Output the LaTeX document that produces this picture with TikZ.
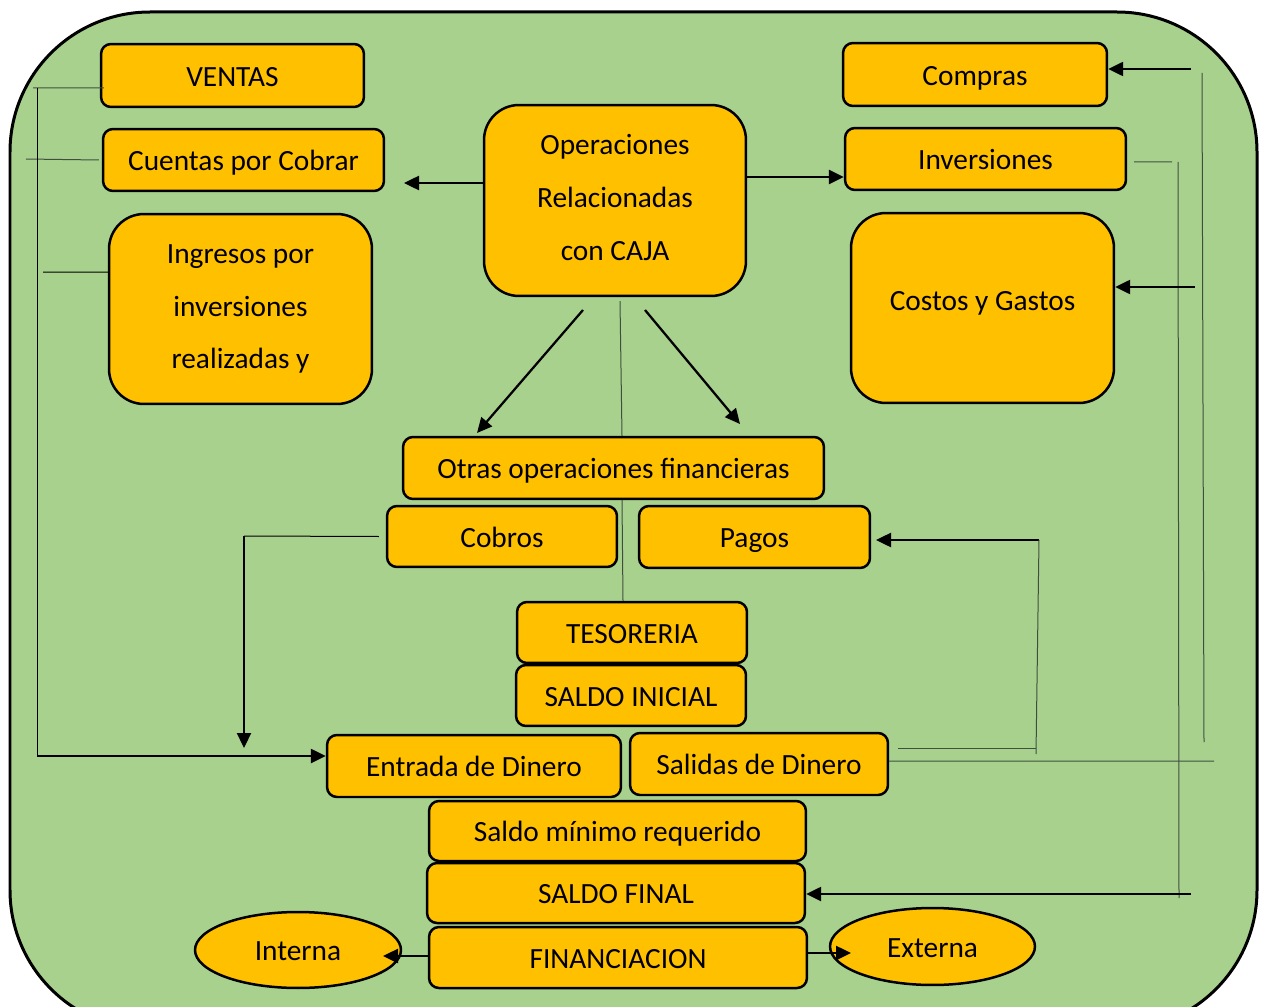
\documentclass[tikz,border=0pt]{standalone}
\usepackage{fontspec}
\setmainfont{Carlito}
\usetikzlibrary{arrows.meta,shapes.geometric}
\definecolor{bggreen}{HTML}{A9D18E}
\definecolor{boxorange}{HTML}{FFC000}
\definecolor{thingray}{HTML}{3F4F3F}
\tikzset{
  boxbase/.style={draw=black, fill=boxorange, line width=0.05cm, inner sep=0pt, align=center},
  box/.style={boxbase, rounded corners=0.2cm, text height=15.9pt, text depth=3.5pt},
  bigbox/.style={boxbase, rounded corners=0.7cm},
  oval/.style={draw=black, fill=boxorange, line width=0.05cm, ellipse, inner sep=0pt, text height=15.9pt, text depth=3.5pt},
  arr/.style={line width=0.05cm, -{Triangle[length=0.3cm,width=0.28cm]}},
  thinln/.style={line width=0.02cm, draw=thingray},
  thinblk/.style={line width=0.02cm, draw=black},
}
\begin{document}
\begin{tikzpicture}[x=0.02cm, y=-0.02cm, font=\fontsize{16.7}{30}\selectfont]
\useasboundingbox (0,0) rectangle (1265,1007);
\clip (0,0) rectangle (1265,1007);
\fill[white] (0,0) rectangle (1265,1007);
\filldraw[fill=bggreen, draw=black, line width=0.06cm, rounded corners=2.8cm] (10,12) rectangle (1257,1030);

% nodes
\node[box, minimum width=5.26cm, minimum height=1.26cm] (ventas) at (232.5,75.5) {VENTAS};
\node[box, minimum width=5.62cm, minimum height=1.24cm] (cuentas) at (243.5,160) {Cuentas por Cobrar};
\node[bigbox, minimum width=5.26cm, minimum height=3.8cm] (ingresos) at (240.5,309) {Ingresos por\\inversiones\\realizadas y};
\node[bigbox, minimum width=5.24cm, minimum height=3.82cm, text depth=3.3pt] (oper) at (615,200.5) {Operaciones\\Relacionadas\\con CAJA};
\node[box, minimum width=5.28cm, minimum height=1.26cm] (compras) at (975,74.5) {Compras};
\node[box, minimum width=5.62cm, minimum height=1.24cm] (invers) at (985.5,159) {Inversiones};
\node[bigbox, minimum width=5.26cm, minimum height=3.8cm] (costos) at (982.5,308) {};
\node (costosT) at (982.5,303) {Costos y Gastos};
\node[box, minimum width=8.42cm, minimum height=1.24cm] (otras) at (613.5,468) {Otras operaciones financieras};
\node[box, minimum width=4.6cm, minimum height=1.22cm] (cobros) at (502,536.5) {Cobros};
\node[box, minimum width=4.62cm, minimum height=1.24cm] (pagos) at (754.5,537) {Pagos};
\node[box, minimum width=4.6cm, minimum height=1.22cm] (teso) at (632,632.5) {TESORERIA};
\node[box, minimum width=4.6cm, minimum height=1.22cm] (sinicial) at (631,695.5) {SALDO INICIAL};
\node[box, minimum width=5.88cm, minimum height=1.24cm] (entrada) at (474,766) {Entrada de Dinero};
\node[box, minimum width=5.16cm, minimum height=1.24cm] (salidas) at (759,764) {Salidas de Dinero};
\node[box, minimum width=7.54cm, minimum height=1.2cm] (smin) at (617.5,831) {Saldo mínimo requerido};
\node[box, minimum width=7.56cm, minimum height=1.2cm] (sfinal) at (616,893) {SALDO FINAL};
\node[box, minimum width=7.56cm, minimum height=1.22cm] (financ) at (618,957.5) {FINANCIACION};
\node[oval, minimum width=4.12cm, minimum height=1.52cm] (interna) at (298,950) {Interna};
\node[oval, minimum width=4.1cm, minimum height=1.54cm] (externa) at (932.5,946.5) {Externa};

% coordinates for free ends
\coordinate (cuentasTip) at (404,183);
\coordinate (o2) at (749,177);
\coordinate (d1s) at (583,310);
\coordinate (d1e) at (477,433);
\coordinate (d2s) at (645,310);
\coordinate (d2e) at (740,424);
\coordinate (cobL) at (244,536);
\coordinate (cobTip) at (244,748);
\coordinate (ventasL) at (33,88);
\coordinate (cuentasL) at (26,159);
\coordinate (ingL) at (43,272);
\coordinate (busTop) at (37,88);
\coordinate (busBot) at (37,756);
\coordinate (pagR) at (1039,540);
\coordinate (pagTip) at (876,540);
\coordinate (pagB) at (1036,754);
\coordinate (salA) at (898,748);
\coordinate (salB) at (1036,748);
\coordinate (salR) at (1214,761);
\coordinate (invR1) at (1172,162);
\coordinate (invR2) at (1178,162);
\coordinate (invR3) at (1179,898);
\coordinate (sfR) at (1191,894);
\coordinate (compR) at (1191,69);
\coordinate (costR) at (1195,287);
\coordinate (vR1) at (1202,73);
\coordinate (vR2) at (1204,742);
\coordinate (intTip) at (383,956);
\coordinate (extTip) at (851,953);

% connectors
\draw[arr] (oper.west |- cuentasTip) -- (cuentasTip);
\draw[arr] (oper.east |- o2) -- (invers.west |- o2);
\draw[arr, line width=0.045cm] (d1s) -- (d1e);
\draw[arr, line width=0.045cm] (d2s) -- (d2e);
\draw[thinln] ([xshift=0.1cm,yshift=-0.08cm]oper.south) -- ([xshift=0.17cm]otras.north);
\draw[thinln] ([xshift=0.17cm]otras.south) -- ([xshift=-0.18cm]teso.north);

\draw[thinblk] ([xshift=-0.14cm]cobros.west) -- (cobL);
\draw[arr, line width=0.045cm] (cobL) -- (cobTip);

\draw[thinln] ([xshift=0.08cm,yshift=-0.25cm]ventas.west) -- (ventasL);
\draw[thinln] ([xshift=-0.06cm]cuentas.west) -- (cuentasL);
\draw[thinblk] ([yshift=0.74cm]ingresos.west) -- (ingL);
\draw[thinblk] (busTop) -- (busBot);
\draw[arr] (busBot) -- (entrada.west |- busBot);

\draw[arr] (pagR) -- (pagTip);
\draw[thinln] (pagR) -- (pagB);
\draw[thinln] (salA) -- (salB);
\draw[thinln] ([yshift=0.06cm]salidas.east) -- (salR);

\draw[thinln] ([xshift=0.14cm,yshift=-0.06cm]invers.east) -- (invR1);
\draw[thinln] (invR2) -- (invR3);
\draw[thinln] (vR1) -- (vR2);
\draw[arr] (sfR) -- (sfinal.east |- sfR);
\draw[arr] (compR) -- (compras.east |- compR);
\draw[arr] (costR) -- (costos.east |- costR);

\draw[arr] (financ.west |- intTip) -- (intTip);
\draw[arr] (financ.east |- extTip) -- (extTip);
\end{tikzpicture}
\end{document}
